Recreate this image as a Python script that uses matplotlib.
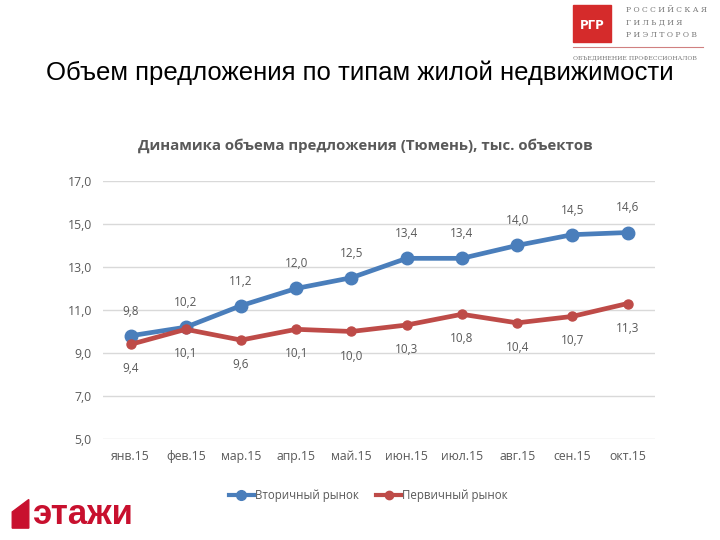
import matplotlib.pyplot as plt
from matplotlib.patches import Rectangle, Polygon
from matplotlib.lines import Line2D

months = ["янв.15", "фев.15", "мар.15", "апр.15", "май.15",
          "июн.15", "июл.15", "авг.15", "сен.15", "окт.15"]
secondary = [9.8, 10.2, 11.2, 12.0, 12.5, 13.4, 13.4, 14.0, 14.5, 14.6]
primary = [9.4, 10.1, 9.6, 10.1, 10.0, 10.3, 10.8, 10.4, 10.7, 11.3]
yticks = [5.0, 7.0, 9.0, 11.0, 13.0, 15.0, 17.0]

BLUE = "#4A7EBB"
RED = "#BE4B48"
GRAY = "#595959"
FONT = ["Open Sans", "DejaVu Sans"]

fig = plt.figure(figsize=(7.2, 5.4), dpi=100)
ax = fig.add_axes([0.143, 0.187, 0.767, 0.478])

x = list(range(len(months)))
ax.plot(x, secondary, color=BLUE, lw=3.4, marker="o", ms=9, zorder=3)
ax.plot(x, primary, color=RED, lw=3.4, marker="o", ms=6.5, zorder=3)

for xi, v in zip(x, secondary):
    ax.annotate(f"{v:.1f}".replace(".", ","), (xi, v), xytext=(0, 13),
                textcoords="offset points", ha="center", va="bottom",
                fontsize=8.5, color=GRAY, family=FONT)
for xi, v in zip(x, primary):
    ax.annotate(f"{v:.1f}".replace(".", ","), (xi, v), xytext=(0, -13),
                textcoords="offset points", ha="center", va="top",
                fontsize=8.5, color=GRAY, family=FONT)

ax.set_xlim(-0.5, 9.5)
ax.set_ylim(5, 17)
ax.set_yticks(yticks)
ax.set_yticklabels([f"{t:.1f}".replace(".", ",") for t in yticks])
ax.set_xticks(x)
ax.set_xticklabels(months)
for lab in ax.get_xticklabels() + ax.get_yticklabels():
    lab.set_family(FONT)
    lab.set_fontsize(8.8)
    lab.set_color(GRAY)
ax.tick_params(length=0, pad=8)
ax.grid(axis="y", color="#D9D9D9", lw=1)
ax.set_axisbelow(True)
for s in ax.spines.values():
    s.set_visible(False)

handles = [Line2D([0], [0], color=BLUE, lw=3, marker="o", ms=7),
           Line2D([0], [0], color=RED, lw=3, marker="o", ms=6)]
fig.legend(handles, ["Вторичный рынок", "Первичный рынок"], loc="center",
           bbox_to_anchor=(0.512, 0.083), ncol=2, frameon=False,
           prop={"family": FONT, "size": 8.3}, labelcolor=GRAY,
           handlelength=2.1, columnspacing=1.5, handletextpad=0.15)

fig.text(0.50, 0.866, "Объем предложения по типам жилой недвижимости",
         ha="center", va="center", fontsize=18.5, family=["Liberation Sans", "DejaVu Sans"])
fig.text(0.508, 0.731, "Динамика объема предложения (Тюмень), тыс. объектов",
         ha="center", va="center", fontsize=10.8, weight="bold", color=GRAY, family=FONT)

# logo top right (approximation)
fig.patches.append(Rectangle((0.796, 0.922), 0.052, 0.069, transform=fig.transFigure,
                             color="#D52B2B", zorder=5))
fig.text(0.822, 0.952, "РГР", ha="center", va="center", fontsize=8.5, color="white",
         weight="bold", zorder=6)
for i, t in enumerate(["Р О С С И Й С К А Я", "Г И Л Ь Д И Я", "Р И Э Л Т О Р О В"]):
    fig.text(0.870, 0.981 - i * 0.023, t, ha="left", va="center", fontsize=5.5,
             color="#777777", family=["DejaVu Serif"])
fig.add_artist(Line2D([0.796, 0.976], [0.913, 0.913], color="#D08080", lw=0.8))
fig.text(0.796, 0.894, "ОБЪЕДИНЕНИЕ ПРОФЕССИОНАЛОВ", ha="left", va="center",
         fontsize=4.4, color="#777777", family=["DejaVu Serif"])

# logo bottom left (approximation)
fig.patches.append(Polygon([(0.017, 0.022), (0.017, 0.052), (0.040, 0.075), (0.040, 0.022)],
                           closed=True, transform=fig.transFigure, color="#C8102E"))
fig.text(0.045, 0.048, "этажи", ha="left", va="center", fontsize=25, weight="bold",
         color="#C8102E", family=["Liberation Sans", "DejaVu Sans"])

fig.savefig("out.png", dpi=100)
